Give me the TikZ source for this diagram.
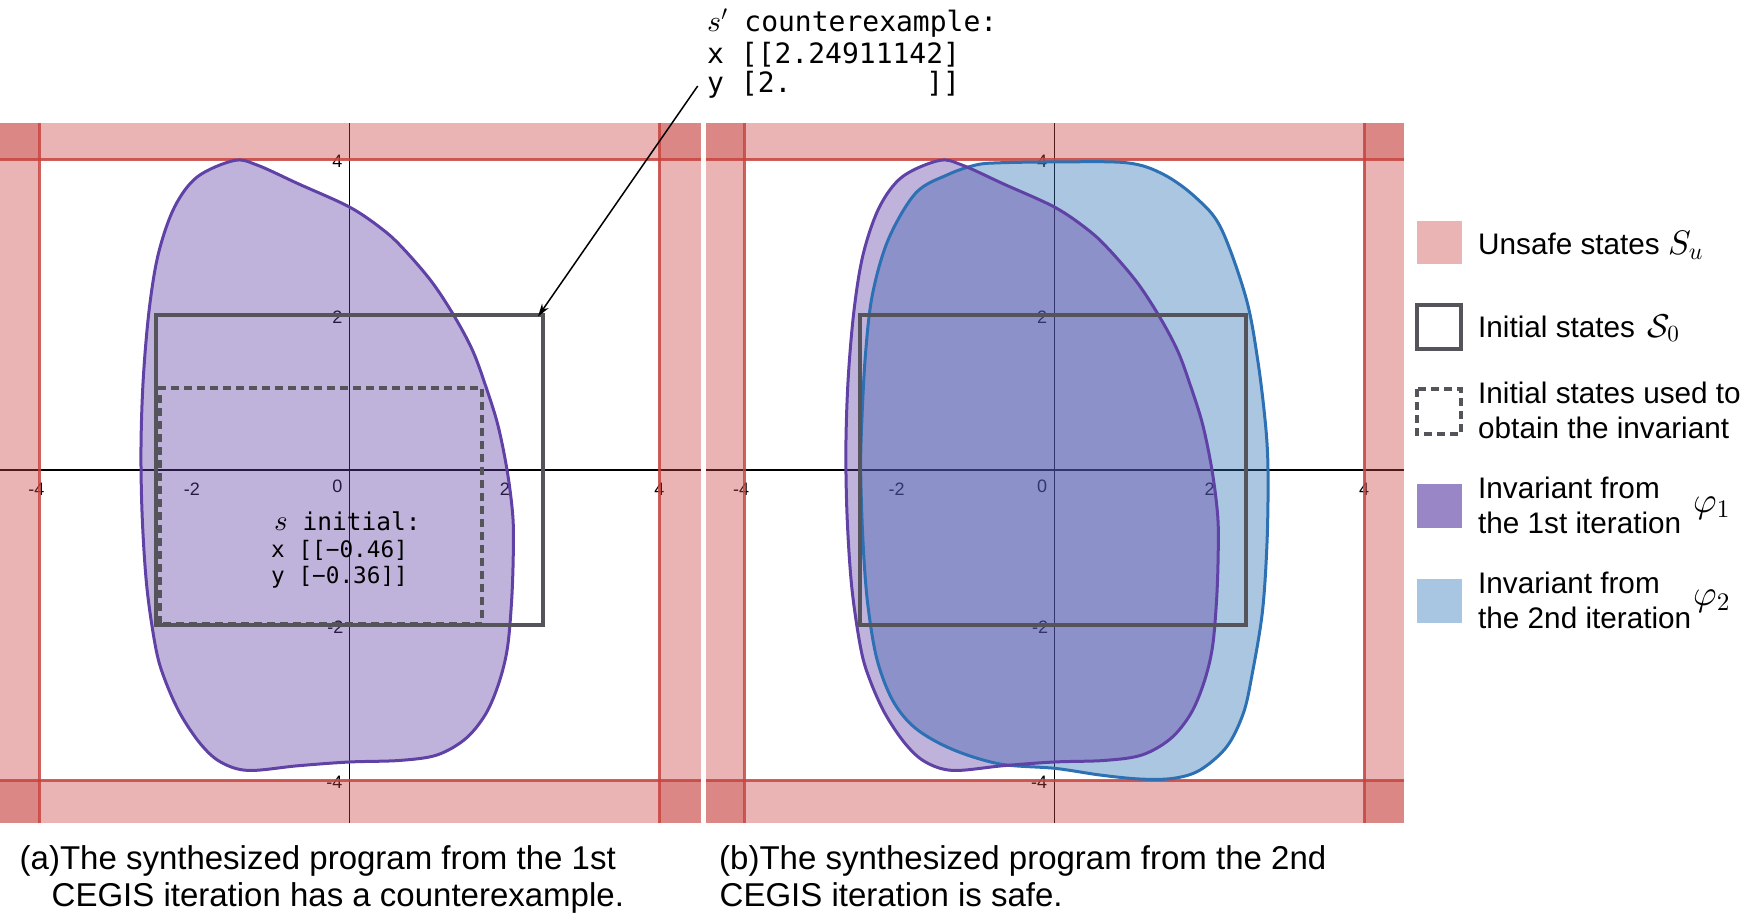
\documentclass[tikz,border=0pt]{standalone}
\usepackage[no-math]{fontspec}
\setmainfont{Liberation Sans}
\newfontfamily\monofont{DejaVu Sans Mono}
\usetikzlibrary{arrows.meta}
% scalable Computer Modern maths
\DeclareFontFamily{OML}{scmm}{\skewchar\font127 }
\DeclareFontShape{OML}{scmm}{m}{it}{<->cmmi10}{}
\DeclareSymbolFont{letters}{OML}{scmm}{m}{it}
\DeclareFontFamily{OMS}{scmsy}{\skewchar\font48 }
\DeclareFontShape{OMS}{scmsy}{m}{n}{<->cmsy10}{}
\DeclareSymbolFont{symbols}{OMS}{scmsy}{m}{n}
\DeclareFontFamily{OT1}{scmr}{\hyphenchar\font45 }
\DeclareFontShape{OT1}{scmr}{m}{n}{<->cmr10}{}
\DeclareSymbolFont{operators}{OT1}{scmr}{m}{n}
\newcommand\msz[1]{\fontsize{#1}{#1}\selectfont}

\definecolor{desred}{RGB}{199,68,64}
\definecolor{despurple}{RGB}{96,66,166}
\definecolor{desblue}{RGB}{45,112,179}
\definecolor{boxgray}{RGB}{84,84,90}
\definecolor{legpink}{RGB}{233,180,179}
\definecolor{legpurple}{RGB}{152,134,199}
\definecolor{legblue}{RGB}{168,197,226}

\newcommand\purpleshape[1]{\path[#1] plot[smooth cycle, tension=0.55] coordinates {
(-1.485,3.991) (-1.191,3.933) (-0.657,3.690) (0.009,3.387) (0.439,3.094) (0.704,2.846)
(1.062,2.428) (1.357,1.978) (1.596,1.528) (1.77,1.05) (1.92,0.566) (2.04,-0.03)
(2.11,-0.6) (2.116,-1.074) (2.095,-1.68) (2.04,-2.3) (1.93,-2.75) (1.76,-3.15)
(1.50,-3.47) (1.13,-3.68) (0.65,-3.75) (0.0,-3.77) (-0.657,-3.818) (-1.307,-3.879)
(-1.668,-3.766) (-1.926,-3.529) (-2.185,-3.142) (-2.378,-2.712) (-2.494,-2.316) (-2.610,-1.535)
(-2.671,-0.635) (-2.688,0.268) (-2.659,1.168) (-2.582,2.068) (-2.463,2.790) (-2.255,3.391)
(-1.960,3.781)};}

\newcommand\blueshape[1]{\path[#1] plot[smooth cycle, tension=0.55] coordinates {
(-1.015,3.932) (-0.720,3.961) (0.0,3.972) (0.939,3.961) (1.413,3.810) (1.830,3.510)
(2.151,3.120) (2.475,2.217) (2.627,1.408) (2.728,0.566) (2.759,-0.034) (2.746,-0.935)
(2.686,-1.835) (2.552,-2.648) (2.440,-3.142) (2.226,-3.573) (1.881,-3.874) (1.537,-3.981)
(1.107,-3.990) (0.591,-3.938) (0.010,-3.852) (-0.699,-3.796) (-1.312,-3.608) (-1.786,-3.338)
(-2.083,-2.978) (-2.289,-2.437) (-2.408,-1.716) (-2.467,-0.935) (-2.497,-0.034) (-2.485,0.566)
(-2.437,1.468) (-2.348,2.249) (-2.142,2.969) (-1.786,3.572) (-1.370,3.810)};}

% #1 origin x, #2 left edge, #3 right edge, #4 name prefix
\newcommand\plotpanel[4]{%
  \draw[axisline] (#2,469.8) -- (#3,469.8);
  \draw[axisline] (#1,123.3) -- (#1,822.7);
  \node[ticklbl] (#4xm4) at ({#1-313},489) {-4};
  \node[ticklbl] (#4xm2) at ({#1-157.5},489) {-2};
  \node[ticklbl] (#4xz) at ({#1-12},486) {0};
  \node[ticklbl] (#4xp2) at ({#1+155.5},489) {2};
  \node[ticklbl] (#4xp4) at ({#1+310},489) {4};
  \node[ticklbl] (#4yp4) at ({#1-12},161) {4};
  \node[ticklbl] (#4yp2) at ({#1-12},317) {2};
  \node[ticklbl] (#4ym2) at ({#1-14},627) {-2};
  \node[ticklbl] (#4ym4) at ({#1-15},782) {-4};
  \fill[redband] (#2,123.3) rectangle ({#1-310},822.7);
  \fill[redband] ({#1+310},123.3) rectangle (#3,822.7);
  \fill[redband] (#2,123.3) rectangle (#3,159.5);
  \fill[redband] (#2,780) rectangle (#3,822.7);
  \draw[bandline] ({#1-310},123.3) -- ({#1-310},822.7);
  \draw[bandline] ({#1+310},123.3) -- ({#1+310},822.7);
  \draw[bandline] (#2,159.5) -- (#3,159.5);
  \draw[bandline] (#2,780) -- (#3,780);
}

\begin{document}
\begin{tikzpicture}[x=1bp, y=-1bp,
  axisline/.style={draw=black, line width=1.4bp},
  ticklbl/.style={inner sep=0pt, font=\fontsize{18bp}{21bp}\selectfont},
  redband/.style={fill=desred, fill opacity=0.4},
  bandline/.style={draw=desred, line width=3bp, draw opacity=0.85},
  initbox/.style={draw=boxgray, line width=4bp},
  usedbox/.style={draw=boxgray, line width=4bp, dash pattern=on 8bp off 5bp},
  legtext/.style={anchor=base west, inner sep=0pt, font=\fontsize{29.7bp}{35bp}\selectfont},
  captext/.style={anchor=base west, inner sep=0pt, font=\fontsize{33bp}{38bp}\selectfont},
  cetext/.style={anchor=base west, inner sep=0pt, font=\fontsize{28bp}{32bp}\selectfont\monofont},
  sitext/.style={anchor=base west, inner sep=0pt, font=\fontsize{22.7bp}{27bp}\selectfont\monofont},
  sihead/.style={anchor=base west, inner sep=0pt, font=\fontsize{24.5bp}{28bp}\selectfont\monofont},
  pointer/.style={draw=black, line width=1.5bp, -{Stealth[length=13bp,width=8bp]}}]
\useasboundingbox (0,0) rectangle (1759,919);

% ---------- panel (a) ----------
\plotpanel{349.3}{0}{701.3}{a}
\begin{scope}[shift={(349.3bp,-469.8bp)}, x=77.5bp, y=77.5bp]
  \purpleshape{fill=despurple, fill opacity=0.4}
  \purpleshape{draw=despurple, line width=3bp}
  \draw[initbox] (-2.5,-2) rectangle (2.5,2);
  \draw[usedbox] (-2.445,-1.986) rectangle (1.71,1.06);
\end{scope}
\node[sihead] (si1) at (274,530) {{\msz{29bp}$s$} initial:};
\node[sitext] (si2) at (271,557.5) {x [[−0.46]};
\node[sitext] (si3) at (271,583) {y [−0.36]]};

% ---------- panel (b) ----------
\plotpanel{1054.2}{705.7}{1404.3}{b}
\begin{scope}[shift={(1054.2bp,-469.8bp)}, x=77.5bp, y=77.5bp]
  \blueshape{fill=desblue, fill opacity=0.4}
  \purpleshape{fill=despurple, fill opacity=0.4}
  \blueshape{draw=desblue, line width=3bp}
  \purpleshape{draw=despurple, line width=3bp}
  \draw[initbox] (-2.5,-2) rectangle (2.48,2);
\end{scope}

% ---------- counterexample annotation ----------
\node[cetext] (ce1) at (707,31) {{\msz{30bp}$s'$} counterexample:};
\node[cetext] (ce2) at (707,63.5) {x [[2.24911142]};
\node[cetext] (ce3) at (707,92) {y [2.\phantom{00000000}]]};
\coordinate (arrtail) at (697.7,86);
\coordinate (arrtip) at (538,316.5);
\draw[pointer] (arrtail) -- (arrtip);

% ---------- legend ----------
\fill[legpink] (1417,221) rectangle (1462,264);
\draw[initbox] (1417,305) rectangle (1461,349);
\draw[usedbox] (1417,389) rectangle (1461,434);
\fill[legpurple] (1417,484) rectangle (1462,528);
\fill[legblue] (1417,579) rectangle (1462,623);
\node[legtext] (l1) at (1478,254) {Unsafe states {\msz{34bp}$S_u$}};
\node[legtext] (l2) at (1478,337) {Initial states\kern4bp\ {\msz{33bp}$\mathcal{S}_0$}};
\node[legtext] (l3a) at (1478,403) {Initial states used to};
\node[legtext] (l3b) at (1478,438) {obtain the invariant};
\node[legtext] (l4a) at (1478,498) {Invariant from};
\node[legtext] (l4b) at (1478,533) {the 1st iteration};
\node[legtext] (l4c) at (1693,512) {\msz{36bp}$\varphi_1$};
\node[legtext] (l5a) at (1478,593) {Invariant from};
\node[legtext] (l5b) at (1478,628) {the 2nd iteration};
\node[legtext] (l5c) at (1693,605.5) {\msz{36bp}$\varphi_2$};

% ---------- captions ----------
\node[captext] (capa1) at (19.5,869) {(a)The synthesized program from the 1st};
\node[captext] (capa2) at (51.5,906) {CEGIS iteration has a counterexample.};
\node[captext] (capb1) at (719,869) {(b)The synthesized program from the 2nd};
\node[captext] (capb2) at (719.5,906) {CEGIS iteration is safe.};
\end{tikzpicture}
\end{document}
